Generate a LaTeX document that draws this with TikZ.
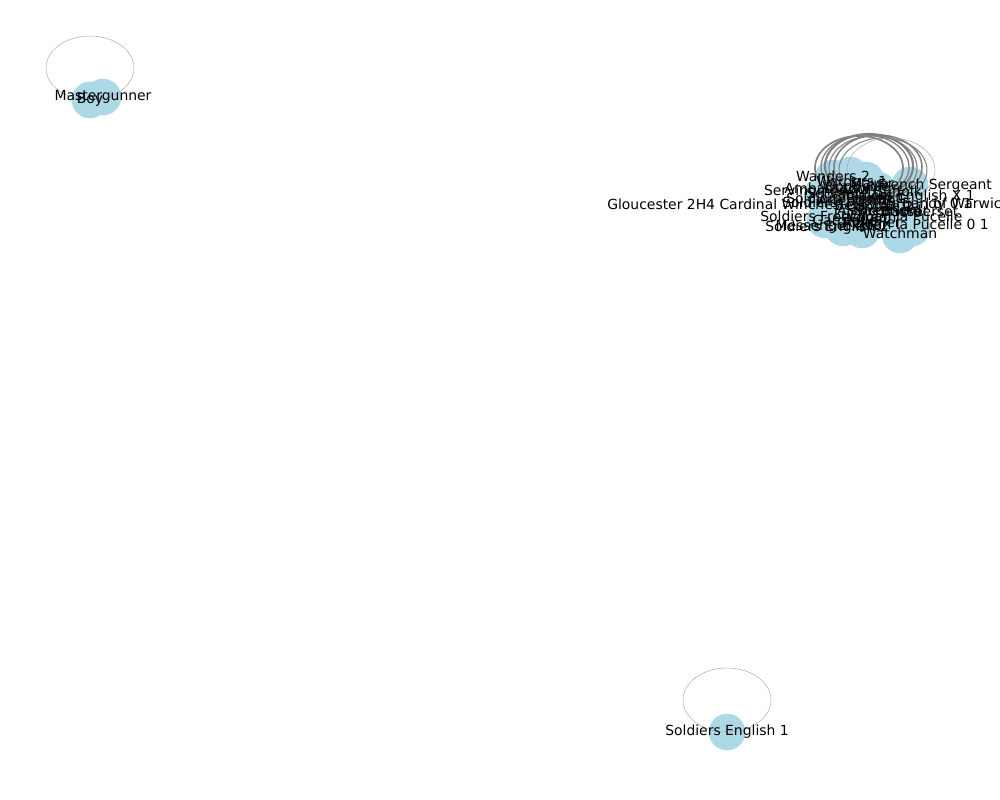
\documentclass[tikz,border=0pt]{standalone}
\usepackage{fontspec}
\setmainfont{DejaVu Sans}
\usetikzlibrary{positioning}

\begin{document}
\begin{tikzpicture}[x=0.025cm, y=-0.025cm,
  figura/.style={circle, fill={rgb,255:red,173;green,216;blue,230}, minimum size=26pt, inner sep=0pt},
  nombre/.style={font=\fontsize{9.9}{11}\selectfont, inner sep=0pt},
  bucle/.style={draw={rgb,255:red,160;green,160;blue,160}, line width=0.3pt},
  bucleG/.style={draw={rgb,255:red,128;green,128;blue,128}, line width=#1},
  bucleG/.default=1pt
]
\useasboundingbox (0,0) rectangle (1000,800);
\clip (0,0) rectangle (1000,800);

% nodos aislados
\node[figura] (boy) at (90,100) {};
\node[figura] (gunner) at (103,97) {};
\node[figura] (soleng) at (727,732) {};

% grupo principal
\foreach \n/\x/\y in {
  c1/833/178, c2/850/175, c3/866/180, c4/910/185,
  c5/825/220, c6/843/228, c7/862/230, c8/900/235,
  c9/912/228, c10/880/205, c11/845/200, c12/870/195,
  c13/905/205, c14/822/195, c15/891/202, c16/878/190,
  c17/855/215, c18/835/208}
  \node[figura] (\n) at (\x,\y) {};

% bucles
\draw[bucle] (boy.center) ++(0,-32) ellipse [x radius=44, y radius=32];
\draw[bucle] (soleng.center) ++(0,-32) ellipse [x radius=44, y radius=32];
\foreach \x/\y/\w in {859/168/1.2pt, 865/167/0.9pt, 869/166/1.5pt,
  873/168/0.8pt, 878/167/1.1pt, 883/170/0.7pt}
  \draw[bucleG=\w] (\x,\y) ellipse [x radius=44, y radius=32];
\draw[bucle] (c15.center) ++(0,-32) ellipse [x radius=44, y radius=32];

% etiquetas aisladas
\node[nombre] at (boy) {Boy};
\node[nombre] at (gunner) {Mastergunner};
\node[nombre] at (soleng) {Soldiers English 1};

% etiquetas del grupo
\node[nombre, anchor=west] at (607,204) {Gloucester 2H4 Cardinal Winchester};
\foreach \t/\x/\y in {
  Wanders 2/833/176, Warders 1/852/181, Woodville/856/186,
  Mayor/872/185, Lawyer/868/190, Ambassador/828/188,
  Servingmen/806/192, Servant 1/840/193, Soldiers/810/202,
  Soldiers French 1/846/198, Attendants/856/200, Bedford/862/205,
  Somerset/925/211, Captain 2/880/208, Basset/905/212,
  Soldiers French 2/820/216, Lucy/850/216, Vernon/872/218,
  Joan la Pucelle/912/218, Joan la Pucelle 0 1/925/226,
  Soldiers English 2/827/228, Messenger 2/820/227,
  Exeter/865/226, Watchman/900/233, Gargrave/845/222,
  Burgundy 0 1/925/205, Soldiers English X 1/906/197,
  Talbot/880/198, Shepherd/888/212, Suffolk/898/191,
  Alencon/865/210, Reignier/872/224}
  \node[nombre] at (\x,\y) {\t};
\node[nombre] at (935,186) {French Sergeant};
\node[nombre, anchor=west] at (902,203) {Earl of Warwick 1};
\end{tikzpicture}
\end{document}
